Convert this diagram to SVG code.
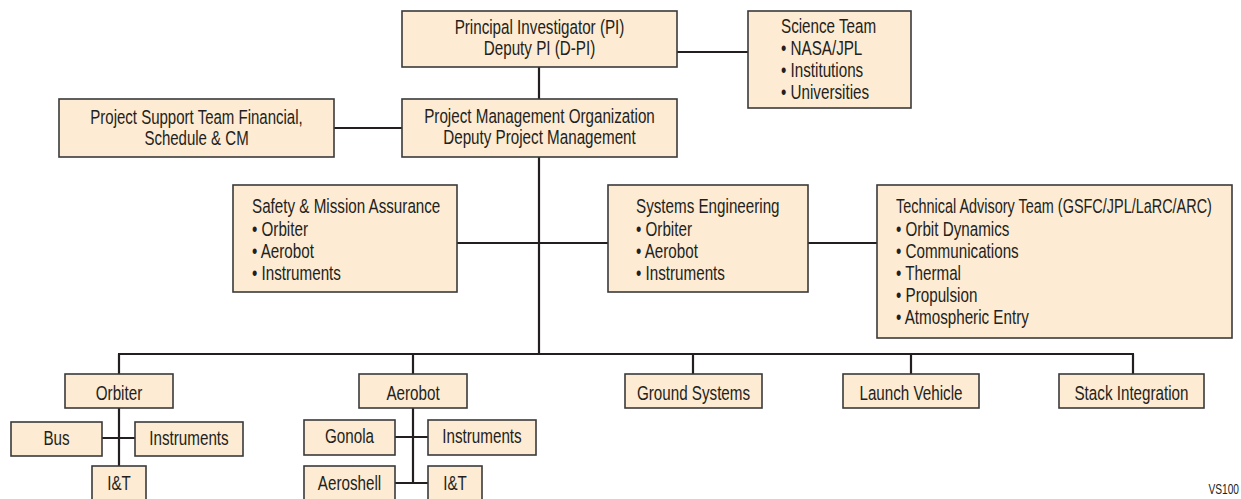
<svg xmlns="http://www.w3.org/2000/svg" width="1241" height="499" viewBox="0 0 1241 499">
<style>
.box{fill:#fdebd3;stroke:#3a3a3a;stroke-width:1.6}
.t{font-family:"Liberation Sans",Arial,sans-serif;font-size:19.5px;fill:#231f20}
.c{text-anchor:middle}
.ln{stroke:#231f20;stroke-width:2.2;fill:none}
</style>
<rect width="1241" height="499" fill="#ffffff"/>
<g id="connectors">
<path class="ln" d="M677,52H748 M539,67V99 M334,128H402 M539,157V354 M457,243H608 M808,243H877 M118,354H1134 M119,354V374 M413,354V374 M693,354V374 M911,354V374 M1133,354V374 M119,408V466 M102,438H135 M413,408V483 M395,437H428 M395,483H428"/>
</g>
<g id="pi"><rect class="box" x="402" y="11" width="275" height="56"/>
<text class="t c" transform="translate(539.5 34) scale(0.78 1)">Principal Investigator (PI)</text>
<text class="t c" transform="translate(539.5 55) scale(0.78 1)">Deputy PI (D-PI)</text></g>
<g id="science"><rect class="box" x="748" y="11" width="163" height="97"/>
<text class="t" transform="translate(781 33) scale(0.78 1)">Science Team</text>
<text class="t" transform="translate(781 55) scale(0.78 1)">• NASA/JPL</text>
<text class="t" transform="translate(781 77) scale(0.78 1)">• Institutions</text>
<text class="t" transform="translate(781 99) scale(0.78 1)">• Universities</text></g>
<g id="support"><rect class="box" x="59" y="99" width="275" height="58"/>
<text class="t c" transform="translate(196.5 124) scale(0.77 1)">Project Support Team Financial,</text>
<text class="t c" transform="translate(196.5 145) scale(0.77 1)">Schedule &amp; CM</text></g>
<g id="pmo"><rect class="box" x="402" y="99" width="275" height="58"/>
<text class="t c" transform="translate(539.5 123) scale(0.78 1)">Project Management Organization</text>
<text class="t c" transform="translate(539.5 144) scale(0.78 1)">Deputy Project Management</text></g>
<g id="sma"><rect class="box" x="233" y="185" width="224" height="107"/>
<text class="t" transform="translate(252 213) scale(0.78 1)">Safety &amp; Mission Assurance</text>
<text class="t" transform="translate(252 236) scale(0.78 1)">• Orbiter</text>
<text class="t" transform="translate(252 258) scale(0.78 1)">• Aerobot</text>
<text class="t" transform="translate(252 280) scale(0.78 1)">• Instruments</text></g>
<g id="syseng"><rect class="box" x="608" y="185" width="200" height="107"/>
<text class="t" transform="translate(636 213) scale(0.78 1)">Systems Engineering</text>
<text class="t" transform="translate(636 236) scale(0.78 1)">• Orbiter</text>
<text class="t" transform="translate(636 258) scale(0.78 1)">• Aerobot</text>
<text class="t" transform="translate(636 280) scale(0.78 1)">• Instruments</text></g>
<g id="tat"><rect class="box" x="877" y="185" width="355" height="153"/>
<text class="t" transform="translate(896 213) scale(0.78 1)" textLength="405" lengthAdjust="spacingAndGlyphs">Technical Advisory Team (GSFC/JPL/LaRC/ARC)</text>
<text class="t" transform="translate(896 236) scale(0.78 1)">• Orbit Dynamics</text>
<text class="t" transform="translate(896 258) scale(0.78 1)">• Communications</text>
<text class="t" transform="translate(896 280) scale(0.78 1)">• Thermal</text>
<text class="t" transform="translate(896 302) scale(0.78 1)">• Propulsion</text>
<text class="t" transform="translate(896 324) scale(0.78 1)">• Atmospheric Entry</text></g>
<g id="orbiter"><rect class="box" x="65" y="374" width="108" height="34"/>
<text class="t c" transform="translate(119 400) scale(0.78 1)">Orbiter</text></g>
<g id="bus"><rect class="box" x="11" y="422" width="91" height="34"/>
<text class="t c" transform="translate(56.5 445) scale(0.78 1)">Bus</text></g>
<g id="orb-instr"><rect class="box" x="135" y="422" width="108" height="34"/>
<text class="t c" transform="translate(189 445) scale(0.78 1)">Instruments</text></g>
<g id="orb-it"><rect class="box" x="92" y="466" width="54" height="40"/>
<text class="t c" transform="translate(119 490) scale(0.78 1)">I&amp;T</text></g>
<g id="aerobot"><rect class="box" x="359" y="374" width="108" height="34"/>
<text class="t c" transform="translate(413 400) scale(0.78 1)">Aerobot</text></g>
<g id="gonola"><rect class="box" x="304" y="420" width="91" height="35"/>
<text class="t c" transform="translate(349.5 443) scale(0.78 1)">Gonola</text></g>
<g id="aer-instr"><rect class="box" x="428" y="420" width="108" height="35"/>
<text class="t c" transform="translate(482 443) scale(0.78 1)">Instruments</text></g>
<g id="aeroshell"><rect class="box" x="304" y="466" width="91" height="40"/>
<text class="t c" transform="translate(349.5 490) scale(0.78 1)">Aeroshell</text></g>
<g id="aer-it"><rect class="box" x="428" y="466" width="54" height="40"/>
<text class="t c" transform="translate(455 490) scale(0.78 1)">I&amp;T</text></g>
<g id="ground"><rect class="box" x="625" y="374" width="137" height="34"/>
<text class="t c" transform="translate(693.5 400) scale(0.78 1)">Ground Systems</text></g>
<g id="launch"><rect class="box" x="843" y="374" width="136" height="34"/>
<text class="t c" transform="translate(911 400) scale(0.78 1)">Launch Vehicle</text></g>
<g id="stack"><rect class="box" x="1059" y="374" width="145" height="34"/>
<text class="t c" transform="translate(1131.5 400) scale(0.78 1)">Stack Integration</text></g>
<text class="t" transform="translate(1239 494) scale(0.68 1)" text-anchor="end" style="font-size:15px">VS100</text>
</svg>
